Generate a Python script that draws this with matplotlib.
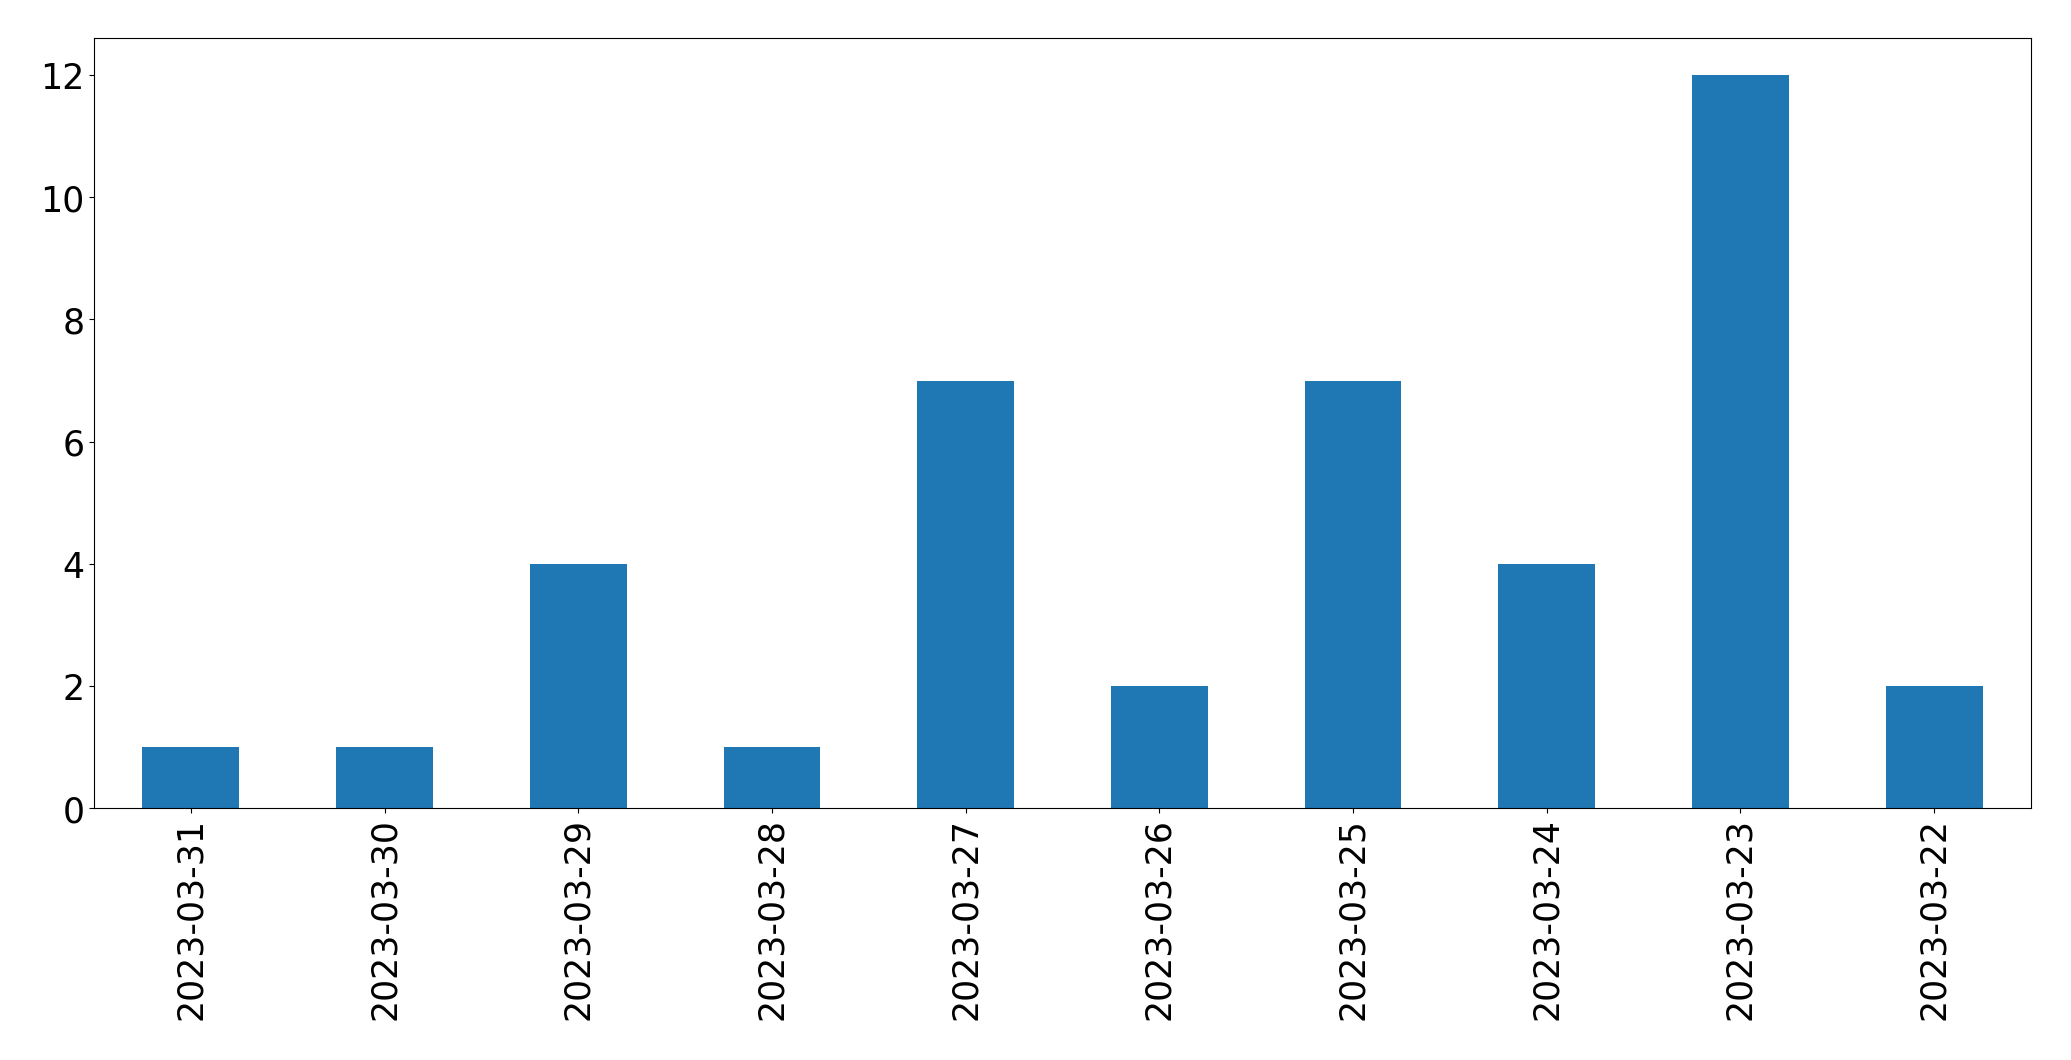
import pandas as pd
import matplotlib.pyplot as plt

dates = ['2023-03-31', '2023-03-30', '2023-03-29', '2023-03-28', '2023-03-27',
         '2023-03-26', '2023-03-25', '2023-03-24', '2023-03-23', '2023-03-22']
counts = [1, 1, 4, 1, 7, 2, 7, 4, 12, 2]

series = pd.Series(counts, index=dates)

fig, ax = plt.subplots(figsize=(20.71, 10.605), dpi=100)
series.plot(kind='bar', ax=ax)
ax.tick_params(axis='both', labelsize=25)
fig.subplots_adjust(left=94/2071, right=2031/2071, top=1-39/1061, bottom=1-809/1061)
plt.savefig('out.png')
